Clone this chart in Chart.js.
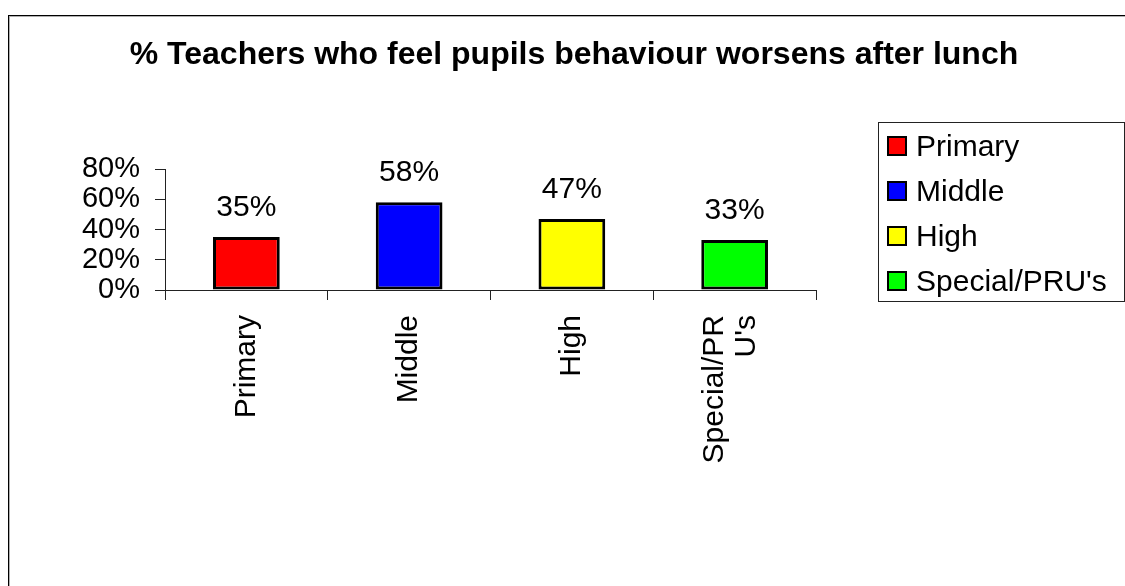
<!DOCTYPE html>
<html>
<head>
<meta charset="utf-8">
<title>% Teachers who feel pupils behaviour worsens after lunch</title>
<script src="https://cdn.jsdelivr.net/npm/chart.js@4.4.1/dist/chart.umd.min.js"></script>
<style>
  html, body { margin: 0; padding: 0; background: #fff; }
  body { width: 1125px; height: 586px; overflow: hidden; position: relative; }
  #marco {
    position: absolute; left: 8px; top: 15px; width: 1200px; height: 700px;
    border-left: 1px solid #000; border-top: 1px solid #000;
    box-shadow: inset 1px 1px 0 #b0b0b0;
  }
  #grafica { position: absolute; left: 0; top: 0; }
</style>
</head>
<body>
<div id="marco"></div>
<canvas id="grafica" width="1148" height="586"></canvas>
<script>
const categorias = ['Primary', 'Middle', 'High', "Special/PRU's"];
const etiquetasEje = ['Primary', 'Middle', 'High', ['Special/PR', "U's"]];
const porcentajes = [35, 58, 47, 33];
const colores = ['#ff0000', '#0000ff', '#ffff00', '#00ff00'];
const ticksY = [0, 20, 40, 60, 80];

const FUENTE = 'Arial, "Liberation Sans", sans-serif';
const COLOR_EJE = '#222';

// etiqueta con el valor sobre cada barra
const valoresSobreBarras = {
  id: 'valoresSobreBarras',
  afterDatasetsDraw(chart) {
    const { ctx } = chart;
    const meta = chart.getDatasetMeta(0);
    ctx.save();
    ctx.font = `30px ${FUENTE}`;
    ctx.fillStyle = '#000';
    ctx.textAlign = 'center';
    ctx.textBaseline = 'alphabetic';
    meta.data.forEach((barra, i) => {
      ctx.fillText(chart.data.datasets[0].data[i] + '%', barra.x, barra.y - 21);
    });
    ctx.restore();
  }
};

// centra las etiquetas de dos lineas del eje x sobre su categoria
const centrarEtiquetas = {
  id: 'centrarEtiquetas',
  beforeDraw(chart) {
    const eje = chart.scales.x;
    eje.getLabelItems().forEach((item) => {
      if (Array.isArray(item.label) && item.label.length > 1) {
        const alto = item.font.lineHeight;
        item.textOffset -= (item.label.length - 1) * alto / 2 + 4;
      }
    });
  }
};

// leyenda en recuadro a la derecha
const leyendaRecuadro = {
  id: 'leyendaRecuadro',
  afterDraw(chart) {
    const { ctx } = chart;
    const ds = chart.data.datasets[0];
    ctx.save();
    ctx.strokeStyle = '#222';
    ctx.lineWidth = 1;
    ctx.strokeRect(878.5, 122.5, 246, 179);
    ctx.font = `30px ${FUENTE}`;
    ctx.textBaseline = 'alphabetic';
    ctx.textAlign = 'left';
    chart.data.labels.forEach((nombre, i) => {
      const y = 136 + i * 45;
      ctx.fillStyle = ds.backgroundColor[i];
      ctx.fillRect(887, y, 20, 20);
      ctx.strokeStyle = '#000';
      ctx.lineWidth = 2;
      ctx.strokeRect(888, y + 1, 18, 18);
      ctx.fillStyle = '#000';
      ctx.fillText(nombre, 916, y + 20);
    });
    ctx.restore();
  }
};

const config = {
  type: 'bar',
  data: {
    labels: categorias,
    datasets: [{
      data: porcentajes,
      backgroundColor: colores,
      borderColor: '#000',
      borderWidth: 3,
      borderSkipped: false,
      categoryPercentage: 1,
      barPercentage: 0.41
    }]
  },
  options: {
    responsive: false,
    animation: false,
    events: [],
    layout: { padding: 0 },
    plugins: {
      legend: { display: false },
      tooltip: { enabled: false },
      title: {
        display: true,
        text: '% Teachers who feel pupils behaviour worsens after lunch',
        color: '#000',
        font: { family: FUENTE, size: 32, weight: 'bold', lineHeight: 1.2 },
        padding: { top: 36, bottom: 94.6 }
      }
    },
    scales: {
      x: {
        afterFit(scale) { scale.height = 296; },
        grid: { display: true, offset: true, drawOnChartArea: false, tickLength: 10, color: COLOR_EJE, lineWidth: 1 },
        border: { display: true, color: COLOR_EJE, width: 1 },
        ticks: {
          autoSkip: false,
          maxRotation: 90,
          minRotation: 90,
          padding: 15,
          color: '#000',
          font: { family: FUENTE, size: 30, lineHeight: 1.05 },
          callback: (valor, i) => etiquetasEje[i]
        }
      },
      y: {
        min: ticksY[0],
        max: ticksY[ticksY.length - 1],
        afterFit(scale) { scale.width = 165; },
        afterBuildTicks(scale) { scale.ticks = ticksY.map(v => ({ value: v })); },
        grid: { display: true, drawOnChartArea: false, tickLength: 10, color: COLOR_EJE, lineWidth: 1 },
        border: { display: true, color: COLOR_EJE, width: 1 },
        ticks: {
          autoSkip: false,
          padding: 15,
          color: '#000',
          font: { family: FUENTE, size: 29 },
          callback: (valor) => valor + '%'
        }
      },
      // eje vacio que reserva el hueco de la leyenda
      hueco: {
        type: 'linear',
        position: 'right',
        display: true,
        afterFit(scale) { scale.width = 332; },
        grid: { display: false },
        border: { display: false },
        ticks: { display: false }
      }
    }
  },
  plugins: [centrarEtiquetas, valoresSobreBarras, leyendaRecuadro]
};

new Chart(document.getElementById('grafica'), config);
</script>
</body>
</html>
